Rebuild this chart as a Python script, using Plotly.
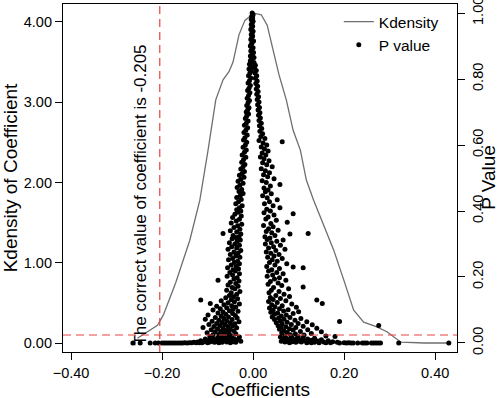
import plotly.graph_objects as go

# ---- Kernel density of the coefficient ----
density_coef = [-0.254, -0.228, -0.210, -0.197, -0.170, -0.139, -0.117, -0.099, -0.082,
                -0.066, -0.053, -0.044, -0.031, -0.018, 0.002, 0.018, 0.031, 0.044, 0.057,
                0.073, 0.088, 0.104, 0.117, 0.133, 0.159, 0.177, 0.199, 0.221, 0.243, 0.272,
                0.294, 0.325, 0.376, 0.435]
density_val = [0.06, 0.16, 0.22, 0.35, 0.75, 1.28, 1.78, 2.40, 3.03,
               3.28, 3.38, 3.50, 3.84, 4.02, 4.11, 4.09, 3.96, 3.65, 3.34,
               3.03, 2.65, 2.40, 2.03, 1.78, 1.41, 1.16, 0.79, 0.41, 0.26, 0.20,
               0.14, 0.01, 0.00, 0.00]

# ---- P values of each estimated coefficient (coef, p) ----
top_column = [(-0.002,1.000),(0.000,0.995),(-0.003,0.990),(-0.001,0.985),(-0.004,0.980),(0.000,0.975),
              (-0.002,0.970),(-0.004,0.965),(-0.001,0.960),(-0.003,0.955),(-0.005,0.950),(0.000,0.945),
              (-0.002,0.940),(-0.004,0.935),(-0.001,0.930),(-0.003,0.925),(-0.005,0.920),(0.001,0.915),
              (-0.002,0.910),(-0.004,0.905),(-0.006,0.900),(0.000,0.895),(-0.003,0.890),(-0.005,0.885),
              (0.001,0.880),(-0.002,0.875),(-0.006,0.870),(0.002,0.865),(-0.004,0.860)]

left_branch = [(-0.006,0.855),(-0.003,0.850),(-0.008,0.845),(-0.005,0.838),(-0.009,0.830),(-0.004,0.825),
               (-0.007,0.818),(-0.010,0.810),(-0.005,0.803),(-0.008,0.795),(-0.011,0.788),(-0.006,0.780),
               (-0.009,0.772),(-0.012,0.765),(-0.007,0.758),(-0.010,0.750),(-0.013,0.742),(-0.008,0.735),
               (-0.011,0.728),(-0.014,0.720),(-0.009,0.713),(-0.012,0.706),(-0.015,0.700),
               (-0.010,0.694),(-0.014,0.688),(-0.017,0.680),(-0.011,0.673),(-0.015,0.666),(-0.019,0.660),
               (-0.012,0.652),(-0.016,0.645),(-0.020,0.638),(-0.013,0.630),(-0.018,0.622),(-0.021,0.615),
               (-0.014,0.608),(-0.017,0.600),(-0.022,0.593),(-0.015,0.585),(-0.019,0.578),(-0.024,0.570),
               (-0.016,0.563),(-0.021,0.555),(-0.025,0.548),(-0.018,0.541),(-0.022,0.534),(-0.027,0.527),
               (-0.019,0.520),
               (-0.024,0.514),(-0.030,0.508),(-0.020,0.502),(-0.027,0.496),(-0.033,0.490),(-0.022,0.484),
               (-0.029,0.478),(-0.035,0.471),(-0.025,0.465),(-0.031,0.459),(-0.022,0.453),(-0.028,0.447),
               (-0.036,0.441),(-0.026,0.435),(-0.032,0.428),(-0.038,0.422),(-0.024,0.416),(-0.030,0.410),
               (-0.036,0.404),(-0.027,0.400),
               (-0.033,0.396),(-0.040,0.390),(-0.026,0.385),(-0.045,0.380),(-0.030,0.375),(-0.037,0.370),
               (-0.048,0.364),(-0.025,0.360),(-0.034,0.355),(-0.042,0.350),(-0.029,0.345),(-0.050,0.340),
               (-0.036,0.336),(-0.066,0.332),(-0.027,0.330),(-0.044,0.326),(-0.031,0.322),(-0.038,0.320),
               (-0.046,0.316),(-0.028,0.312),(-0.035,0.308),(-0.052,0.304),(-0.040,0.300),(-0.030,0.296),
               (-0.047,0.292),(-0.036,0.288),(-0.055,0.284),(-0.027,0.280),(-0.042,0.276),(-0.033,0.272),
               (-0.050,0.268),(-0.038,0.264),(-0.029,0.260),(-0.045,0.256),(-0.054,0.252),(-0.034,0.248),
               (-0.041,0.244),(-0.030,0.240),(-0.048,0.236),(-0.037,0.232),(-0.056,0.228),(-0.032,0.225),
               (-0.044,0.222),
               (-0.039,0.218),(-0.051,0.214),(-0.030,0.210),(-0.045,0.206),(-0.057,0.202),(-0.035,0.198),
               (-0.042,0.194),(-0.077,0.190),(-0.031,0.188),(-0.050,0.184),(-0.038,0.180),(-0.055,0.176),
               (-0.033,0.172),(-0.046,0.168),(-0.040,0.164),(-0.058,0.160),(-0.029,0.156),(-0.048,0.152),
               (-0.036,0.148),(-0.052,0.144),(-0.043,0.140),
               (-0.060,0.137),(-0.034,0.134),(-0.048,0.131),(-0.115,0.130),(-0.070,0.128),(-0.041,0.125),
               (-0.055,0.122),(-0.094,0.120),(-0.030,0.118),(-0.064,0.116),(-0.047,0.113),(-0.080,0.111),
               (-0.038,0.109),(-0.058,0.107),(-0.072,0.104),(-0.044,0.102),(-0.088,0.100),(-0.052,0.098),
               (-0.033,0.096),(-0.066,0.094),(-0.077,0.091),(-0.045,0.089),(-0.060,0.087),(-0.099,0.085),
               (-0.039,0.083),(-0.070,0.081),
               (-0.054,0.079),(-0.083,0.077),(-0.035,0.076),(-0.064,0.074),(-0.105,0.072),(-0.046,0.071),
               (-0.075,0.069),(-0.058,0.067),(-0.090,0.066),(-0.031,0.064),(-0.068,0.062),(-0.050,0.061),
               (-0.080,0.059),(-0.040,0.058),(-0.097,0.056),(-0.061,0.055),(-0.072,0.053),(-0.045,0.052),
               (-0.086,0.050),(-0.055,0.049),(-0.110,0.047),(-0.036,0.046),(-0.066,0.044),(-0.078,0.043),
               (-0.050,0.041),(-0.092,0.040),(-0.060,0.038),(-0.042,0.037),(-0.071,0.035),(-0.083,0.034),
               (-0.053,0.032),(-0.101,0.031),(-0.064,0.029),(-0.038,0.028),(-0.075,0.026),(-0.088,0.025),
               (-0.057,0.023),(-0.047,0.022),(-0.069,0.021),(-0.095,0.020)]

left_bottom = [(-0.030,0.018),(-0.052,0.017),(-0.078,0.016),(-0.063,0.015),(-0.089,0.014),(-0.041,0.013),
               (-0.105,0.012),(-0.071,0.012),(-0.056,0.011),(-0.083,0.010),(-0.035,0.010),(-0.097,0.009),
               (-0.066,0.008),(-0.048,0.008),(-0.115,0.007),(-0.076,0.007),(-0.060,0.006),(-0.090,0.006),
               (-0.027,0.005),(-0.070,0.005),(-0.108,0.004),(-0.044,0.004),(-0.082,0.004),(-0.122,0.003),
               (-0.058,0.003),(-0.095,0.003),(-0.038,0.002),(-0.068,0.002),(-0.130,0.002),(-0.085,0.002),
               (-0.112,0.001),(-0.050,0.001),(-0.140,0.001),(-0.075,0.001),(-0.150,0.0005),(-0.100,0.0008),
               (-0.160,0.0003),(-0.125,0.0005),(-0.170,0.0002),(-0.145,0.0003),(-0.180,0.0001),(-0.155,0.0002),
               (-0.190,0.0001),(-0.165,0.0001),(-0.200,0.0),(-0.175,0.0),(-0.185,0.0),(-0.195,0.0),
               (-0.135,0.0004),(-0.118,0.0006),(-0.226,0.0),(-0.215,0.0),(-0.208,0.0),
               (-0.264,0.0),(-0.248,0.0)]

right_branch = [(0.002,0.850),(0.005,0.842),(0.003,0.834),(0.007,0.826),(0.004,0.818),(0.008,0.810),
                (0.005,0.802),(0.009,0.794),(0.006,0.786),(0.010,0.778),(0.007,0.770),(0.011,0.762),
                (0.008,0.754),(0.012,0.746),(0.009,0.738),(0.013,0.730),(0.010,0.722),(0.014,0.714),
                (0.011,0.706),
                (0.015,0.698),(0.012,0.690),(0.016,0.682),(0.013,0.674),(0.018,0.666),(0.014,0.658),
                (0.019,0.650),(0.015,0.642),(0.021,0.634),(0.017,0.626),(0.026,0.620),(0.013,0.614),
                (0.064,0.610),(0.022,0.606),(0.030,0.600),(0.018,0.594),(0.025,0.588),(0.033,0.582),
                (0.020,0.576),(0.028,0.570),(0.016,0.564),(0.024,0.558),(0.035,0.552),
                (0.021,0.546),(0.030,0.540),(0.042,0.534),(0.018,0.528),(0.027,0.522),(0.036,0.516),
                (0.023,0.510),(0.032,0.504),(0.046,0.498),(0.020,0.492),(0.029,0.486),(0.059,0.480),
                (0.038,0.476),(0.024,0.470),(0.033,0.464),(0.027,0.458),(0.040,0.452),(0.021,0.446),
                (0.031,0.440),(0.053,0.434),(0.036,0.428),(0.025,0.422),(0.044,0.416),(0.059,0.410),
                (0.030,0.405),(0.038,0.400),
                (0.088,0.392),(0.024,0.395),(0.046,0.388),(0.033,0.382),(0.028,0.376),(0.051,0.372),
                (0.075,0.366),(0.039,0.362),(0.023,0.356),(0.044,0.352),(0.034,0.346),(0.055,0.342),
                (0.029,0.338),(0.121,0.332),(0.081,0.330),(0.041,0.334),(0.048,0.326),(0.026,0.322),
                (0.037,0.318),
                (0.066,0.312),(0.031,0.314),(0.052,0.308),(0.040,0.304),(0.027,0.300),(0.060,0.296),
                (0.045,0.292),(0.034,0.288),(0.070,0.284),(0.050,0.280),(0.029,0.276),(0.039,0.272),
                (0.057,0.268),(0.046,0.264),(0.032,0.260),(0.064,0.256),(0.042,0.252),(0.053,0.248),
                (0.036,0.244),(0.074,0.240),(0.048,0.236),(0.030,0.232),(0.088,0.230),(0.110,0.228),
                (0.058,0.226),(0.041,0.222),
                (0.034,0.218),(0.052,0.214),(0.066,0.210),(0.043,0.206),(0.031,0.202),(0.058,0.198),
                (0.047,0.194),(0.072,0.190),(0.038,0.186),(0.055,0.182),(0.033,0.178),(0.063,0.174),
                (0.110,0.170),(0.045,0.168),(0.078,0.164),(0.040,0.160),(0.057,0.156),(0.035,0.152),
                (0.068,0.148),(0.050,0.144),(0.080,0.141),
                (0.038,0.138),(0.060,0.135),(0.044,0.132),(0.140,0.130),(0.072,0.128),(0.034,0.126),
                (0.053,0.123),(0.152,0.120),(0.085,0.118),(0.041,0.116),(0.064,0.113),(0.048,0.110),
                (0.095,0.108),(0.036,0.106),(0.058,0.104),(0.077,0.101),(0.044,0.099),(0.067,0.097),
                (0.100,0.095),(0.039,0.093),(0.054,0.091),(0.088,0.089),(0.047,0.087),(0.073,0.085),
                (0.062,0.082),
                (0.042,0.079),(0.081,0.077),(0.056,0.076),(0.105,0.074),(0.068,0.072),(0.047,0.071),
                (0.092,0.069),(0.060,0.067),(0.190,0.065),(0.118,0.064),(0.075,0.063),(0.051,0.061),
                (0.099,0.059),(0.064,0.058),(0.084,0.056),(0.130,0.055),(0.276,0.053),(0.055,0.052),
                (0.110,0.051),(0.072,0.049),(0.094,0.047),(0.062,0.046),(0.140,0.045),(0.080,0.043),
                (0.058,0.042),(0.120,0.040),(0.088,0.039),(0.068,0.037),(0.104,0.035),(0.150,0.034),
                (0.075,0.032),(0.063,0.030),(0.128,0.029),(0.093,0.027),(0.082,0.025),(0.112,0.024),
                (0.070,0.022),(0.160,0.021),(0.180,0.020),(0.099,0.020)]

right_bottom = [(0.060,0.018),(0.085,0.017),(0.110,0.016),(0.072,0.015),(0.135,0.014),(0.095,0.013),
                (0.065,0.012),(0.120,0.012),(0.080,0.011),(0.150,0.010),(0.102,0.010),(0.068,0.009),
                (0.128,0.008),(0.090,0.008),(0.165,0.007),(0.112,0.007),(0.076,0.006),(0.142,0.006),
                (0.098,0.005),(0.062,0.005),(0.175,0.004),(0.122,0.004),(0.086,0.004),(0.155,0.003),
                (0.106,0.003),(0.070,0.003),(0.185,0.002),(0.135,0.002),(0.094,0.002),(0.160,0.001),
                (0.118,0.001),(0.200,0.001),(0.145,0.001),(0.080,0.001),(0.210,0.0005),(0.170,0.0005),
                (0.128,0.0005),(0.220,0.0003),(0.190,0.0003),(0.240,0.0002),(0.205,0.0002),(0.250,0.0001),
                (0.230,0.0001),(0.260,0.0),(0.270,0.0),(0.280,0.0),(0.215,0.0),(0.245,0.0),(0.265,0.0),
                (0.275,0.0),(0.320,0.0),(0.430,0.0)]

true_coef = -0.205
threshold = 0.1
x_ticks = [-0.4, -0.2, 0.0, 0.2, 0.4]
left_ticks = [0, 1, 2, 3, 4]
right_ticks = [0.0, 0.2, 0.4, 0.6, 0.8, 1.0]

points = top_column + left_branch + left_bottom + right_branch + right_bottom
pv_coef = [c for c, _ in points]
pv_val = [p for _, p in points]

FONT = "Liberation Sans, Arial, Helvetica, sans-serif"
RED = "#e8423f"

fig = go.Figure()
fig.add_trace(go.Scatter(x=density_coef, y=density_val, mode="lines", name="Kdensity",
                         line=dict(color="#6e6e6e", width=1.3), yaxis="y"))
fig.add_trace(go.Scatter(x=pv_coef, y=pv_val, mode="markers", name="P value",
                         marker=dict(color="black", size=5), yaxis="y2"))

fig.add_shape(type="line", xref="x", yref="paper", x0=true_coef, x1=true_coef, y0=0, y1=1,
              line=dict(color=RED, width=1.2, dash="8px,5px"))
fig.add_shape(type="line", xref="paper", yref="y", x0=0, x1=1, y0=threshold, y1=threshold,
              line=dict(color=RED, width=1.2, dash="8px,5px"))

fig.add_annotation(text="The correct value of coefficient is -0.205", x=-0.248, y=1.84,
                   xref="x", yref="y", textangle=-90, showarrow=False,
                   xanchor="center", yanchor="middle",
                   font=dict(family=FONT, size=17, color="black"))
# axis titles placed as text at fixed positions
fig.add_annotation(text="Coefficients", x=0.5, y=-0.107, xref="paper", yref="paper",
                   showarrow=False, xanchor="center", yanchor="middle",
                   font=dict(family=FONT, size=19, color="black"))
fig.add_annotation(text="P Value", x=1.081, y=0.503, xref="paper", yref="paper",
                   textangle=-90, showarrow=False, xanchor="center", yanchor="middle",
                   font=dict(family=FONT, size=19, color="black"))

axis_common = dict(showline=True, linecolor="black", linewidth=1.2, ticks="outside",
                   ticklen=7, tickwidth=1.2, tickcolor="black", showgrid=False, zeroline=False,
                   ticklabeloverflow="allow",
                   tickfont=dict(family=FONT, size=14.5, color="black"))

fig.update_layout(
    width=498, height=398,
    margin=dict(l=63, r=41, t=4, b=46, autoexpand=False),
    plot_bgcolor="white", paper_bgcolor="white",
    font=dict(family=FONT, color="black"),
    showlegend=True,
    legend=dict(x=0.70, y=0.997, xanchor="left", yanchor="top", bgcolor="rgba(0,0,0,0)",
                font=dict(family=FONT, size=15.5, color="black"), tracegroupgap=0),
    xaxis=dict(range=[-0.4176, 0.448], tickvals=x_ticks, tickformat=".2f", mirror=True,
               **axis_common),
    yaxis=dict(range=[-0.112, 4.224], tickvals=left_ticks, tickformat=".2f", mirror=False,
               title=dict(text="Kdensity of Coefficient", font=dict(family=FONT, size=19), standoff=6),
               **axis_common),
    yaxis2=dict(range=[-0.0273, 1.0273], tickvals=right_ticks, tickformat=".2f",
                overlaying="y", side="right", tickangle=-90, ticklabelstandoff=0,
                **axis_common),
)

fig.write_html("out.html", config={"displayModeBar": False},
               post_script="document.body.style.margin='0';")
